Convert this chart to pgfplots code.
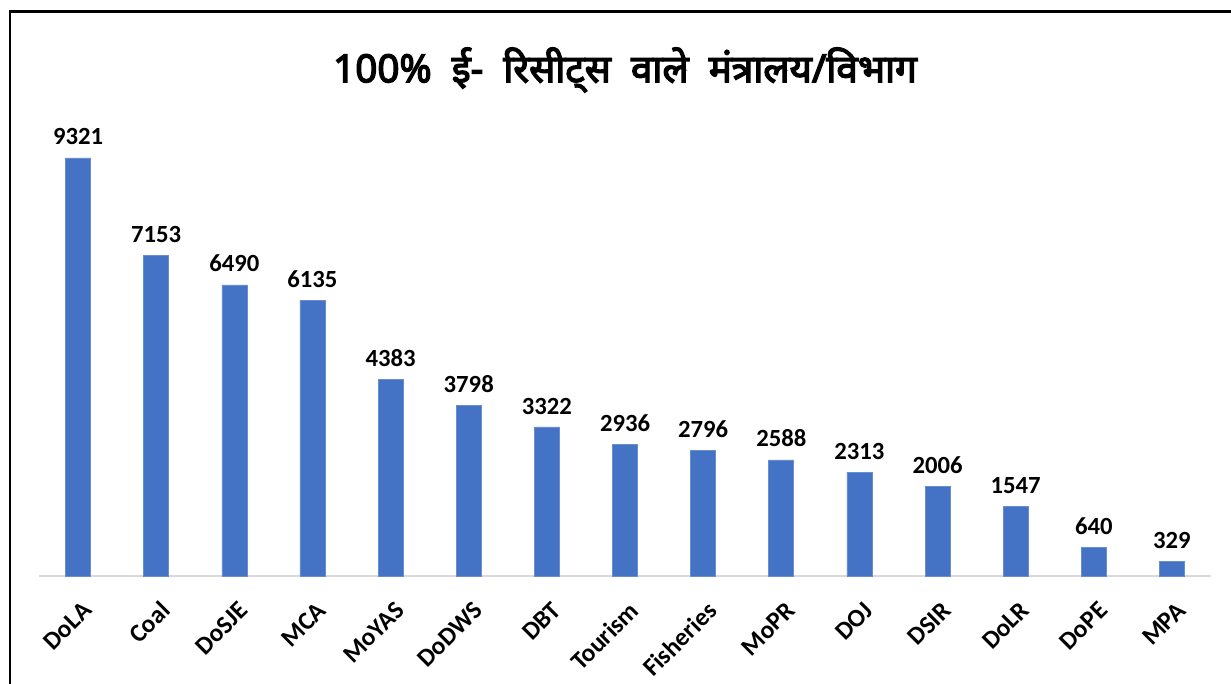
\documentclass[border=0pt]{standalone}
\usepackage{pgfplots}
\pgfplotsset{compat=1.18}
\usepackage{fontspec}
\setmainfont{Carlito}
\newfontfamily\deva[Script=Devanagari, AutoFakeBold=3.5]{Noto Sans}
\definecolor{barblue}{HTML}{4472C4}
\definecolor{axisgray}{HTML}{D9D9D9}
\begin{document}
\begin{tikzpicture}
\path[use as bounding box] (0,0) rectangle (923.25pt,513pt);
\fill[white] (0,0) rectangle (923.25pt,513pt);
\draw[line width=1.6pt,black] (7.5pt,0pt) -- (7.5pt,504.4pt) -- (923.25pt,504.4pt);
\node[font=\deva\bfseries\fontsize{29}{32}\selectfont] at (468.75pt,460.5pt) {100\%\ \ ई-\ \ रिसीट्स\ \ वाले\ \ मंत्रालय/विभाग};
\begin{axis}[
  at={(29.25pt,81pt)}, anchor=south west,
  scale only axis, width=879pt, height=336.4pt,
  xmin=-0.5, xmax=14.5, ymin=0, ymax=10000,
  axis y line=none,
  axis x line*=bottom,
  x axis line style={draw=axisgray, line width=1.2pt, -},
  xtick=data,
  xticklabels={DoLA,Coal,DoSJE,MCA,MoYAS,DoDWS,DBT,Tourism,Fisheries,MoPR,DOJ,DSIR,DoLR,DoPE,MPA},
  major tick length=0pt,
  xticklabel style={rotate=45, anchor=east, font=\bfseries\fontsize{19}{21}\selectfont, inner sep=0pt, yshift=-21pt, xshift=-11pt},
  ybar, bar width=18.75pt,
  /pgf/number format/.cd, 1000 sep={}, assume math mode=true, /pgfplots/.cd,
  nodes near coords,
  every node near coord/.append style={font=\bfseries\fontsize{18.5}{20}\selectfont, anchor=south, yshift=6pt, black},
  clip=false,
]
\addplot[fill=barblue, draw=barblue!80!white, line width=0.5pt] coordinates {
(0,9321) (1,7153) (2,6490) (3,6135) (4,4383) (5,3798) (6,3322) (7,2936) (8,2796) (9,2588) (10,2313) (11,2006) (12,1547) (13,640) (14,329)};
\end{axis}
\end{tikzpicture}
\end{document}
